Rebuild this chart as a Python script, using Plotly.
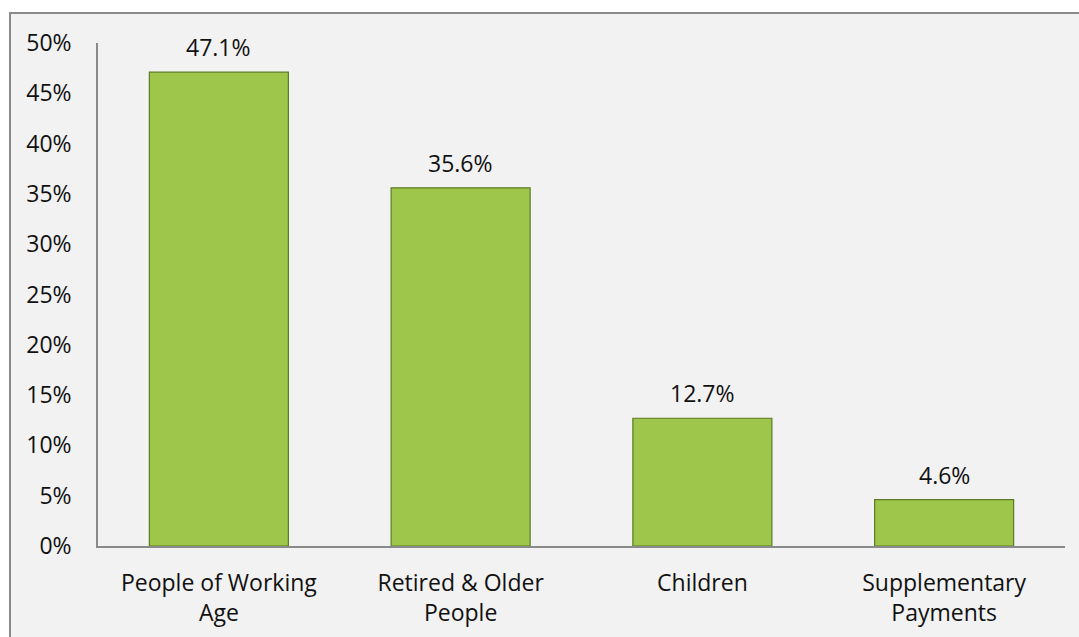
import plotly.graph_objects as go

categories = ["People of Working<br>Age", "Retired & Older<br>People", "Children", "Supplementary<br>Payments"]
values = [0.471, 0.356, 0.127, 0.046]
tick_vals = [0, 0.05, 0.10, 0.15, 0.20, 0.25, 0.30, 0.35, 0.40, 0.45, 0.50]
tick_text = ["0%", "5%", "10%", "15%", "20%", "25%", "30%", "35%", "40%", "45%", "50%"]

FONT = "'Open Sans', Lato, 'Liberation Sans', sans-serif"
FS = 23

fig = go.Figure()
fig.add_trace(go.Bar(
    x=categories, y=values,
    marker=dict(color="#9DC64B", line=dict(color="#5E7A25", width=1.2)),
    hoverinfo="skip",
))

for c, v in zip(categories, values):
    fig.add_annotation(x=c, y=v, text=f"{v*100:.1f}%", showarrow=False,
                       yshift=25, yanchor="middle",
                       font=dict(family=FONT, size=FS, color="#111111"))

L, R, T, B = 98, 14, 43, 91
W, H = 1079, 637
pw = W - L - R
ph = H - T - B

# outer chart frame
fig.add_shape(type="rect", xref="paper", yref="paper", layer="below",
              x0=(10 - L) / pw, x1=(1100 - L) / pw,
              y0=-(660 - (H - B)) / ph, y1=((H - B) - 13) / ph,
              fillcolor="#F2F2F2", line=dict(color="#8A8A8A", width=2))

fig.update_layout(
    width=W, height=H,
    margin=dict(l=L, r=R, t=T, b=B),
    paper_bgcolor="white",
    plot_bgcolor="rgba(0,0,0,0)",
    bargap=0.425,
    showlegend=False,
    font=dict(family=FONT, size=FS, color="#111111"),
    xaxis=dict(
        showline=True, linecolor="#8A8A8A", linewidth=1.5,
        showgrid=False, ticks="outside", ticklen=16, tickcolor="rgba(0,0,0,0)",
        tickfont=dict(family=FONT, size=FS, color="#111111"),
        fixedrange=True, automargin=False,
    ),
    yaxis=dict(
        range=[0, 0.5], tickvals=tick_vals, ticktext=tick_text,
        showline=True, linecolor="#8A8A8A", linewidth=1.5,
        showgrid=False, zeroline=False,
        ticks="outside", ticklen=20, tickcolor="rgba(0,0,0,0)",
        tickfont=dict(family=FONT, size=FS, color="#111111"),
        fixedrange=True, automargin=False,
    ),
)

fig.write_html("out.html", config={"displayModeBar": False})
